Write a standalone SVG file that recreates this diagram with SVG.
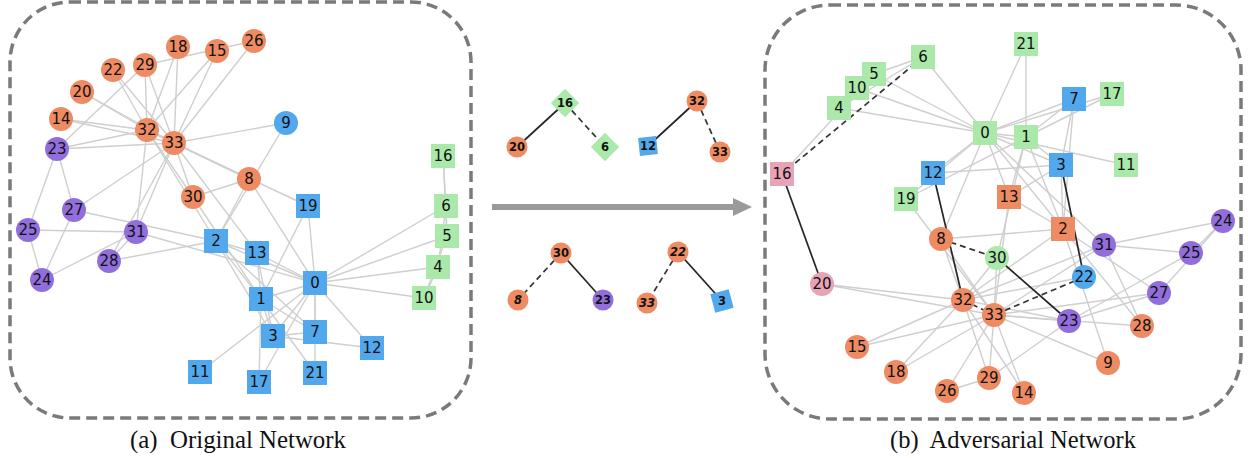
<svg xmlns="http://www.w3.org/2000/svg" width="1248" height="458" viewBox="0 0 1248 458">
<defs>
<style>
.frame{fill:none;stroke:#7a7a7a;stroke-width:3.5;stroke-dasharray:11 6}
.e{stroke:#cfcfcf;stroke-width:1.4;fill:none}
.add{stroke:#262626;stroke-width:1.7}
.rem{stroke:#333333;stroke-width:1.7;stroke-dasharray:6 4}
.o{fill:#EE8B62}
.p{fill:#916EDC}
.b{fill:#52A8EC}
.g{fill:#AAE9AA}
.k{fill:#E9A3B7}
.l{font-family:"DejaVu Sans",sans-serif;font-size:15px;text-anchor:middle;dominant-baseline:central;fill:#111}
.s{font-family:"DejaVu Sans",sans-serif;font-size:11.5px;font-weight:bold;text-anchor:middle;dominant-baseline:central;fill:#111}
.cap{font-family:"Liberation Serif",serif;font-size:25px;fill:#111;text-anchor:middle}
</style>
</defs>
<rect width="1248" height="458" fill="#ffffff"/>
<rect class="frame" x="10" y="2" width="461" height="416" rx="60" ry="60"/>
<rect class="frame" x="765" y="5" width="476" height="414" rx="65" ry="65"/>

<g id="connectors-a">
<line class="e" x1="315" y1="283" x2="261" y2="299"/>
<line class="e" x1="315" y1="283" x2="216" y2="241"/>
<line class="e" x1="315" y1="283" x2="273" y2="336"/>
<line class="e" x1="315" y1="283" x2="438" y2="267"/>
<line class="e" x1="315" y1="283" x2="447" y2="236"/>
<line class="e" x1="315" y1="283" x2="446" y2="206"/>
<line class="e" x1="315" y1="283" x2="315" y2="332"/>
<line class="e" x1="315" y1="283" x2="249" y2="179"/>
<line class="e" x1="315" y1="283" x2="424" y2="298"/>
<line class="e" x1="315" y1="283" x2="200" y2="372"/>
<line class="e" x1="315" y1="283" x2="372" y2="348"/>
<line class="e" x1="315" y1="283" x2="257" y2="253"/>
<line class="e" x1="315" y1="283" x2="259" y2="382"/>
<line class="e" x1="315" y1="283" x2="308" y2="206"/>
<line class="e" x1="315" y1="283" x2="315" y2="373"/>
<line class="e" x1="315" y1="283" x2="136" y2="232"/>
<line class="e" x1="261" y1="299" x2="216" y2="241"/>
<line class="e" x1="261" y1="299" x2="273" y2="336"/>
<line class="e" x1="261" y1="299" x2="315" y2="332"/>
<line class="e" x1="261" y1="299" x2="257" y2="253"/>
<line class="e" x1="261" y1="299" x2="259" y2="382"/>
<line class="e" x1="261" y1="299" x2="308" y2="206"/>
<line class="e" x1="261" y1="299" x2="315" y2="373"/>
<line class="e" x1="261" y1="299" x2="193" y2="197"/>
<line class="e" x1="216" y1="241" x2="273" y2="336"/>
<line class="e" x1="216" y1="241" x2="315" y2="332"/>
<line class="e" x1="216" y1="241" x2="249" y2="179"/>
<line class="e" x1="216" y1="241" x2="286" y2="123"/>
<line class="e" x1="216" y1="241" x2="257" y2="253"/>
<line class="e" x1="216" y1="241" x2="74" y2="210"/>
<line class="e" x1="216" y1="241" x2="109" y2="261"/>
<line class="e" x1="216" y1="241" x2="147" y2="130"/>
<line class="e" x1="273" y1="336" x2="315" y2="332"/>
<line class="e" x1="273" y1="336" x2="372" y2="348"/>
<line class="e" x1="273" y1="336" x2="257" y2="253"/>
<line class="e" x1="438" y1="267" x2="446" y2="206"/>
<line class="e" x1="438" y1="267" x2="424" y2="298"/>
<line class="e" x1="447" y1="236" x2="446" y2="206"/>
<line class="e" x1="447" y1="236" x2="424" y2="298"/>
<line class="e" x1="447" y1="236" x2="443" y2="156"/>
<line class="e" x1="446" y1="206" x2="443" y2="156"/>
<line class="e" x1="249" y1="179" x2="193" y2="197"/>
<line class="e" x1="249" y1="179" x2="147" y2="130"/>
<line class="e" x1="249" y1="179" x2="174" y2="143"/>
<line class="e" x1="286" y1="123" x2="174" y2="143"/>
<line class="e" x1="257" y1="253" x2="174" y2="143"/>
<line class="e" x1="61" y1="119" x2="147" y2="130"/>
<line class="e" x1="61" y1="119" x2="174" y2="143"/>
<line class="e" x1="217" y1="51" x2="147" y2="130"/>
<line class="e" x1="217" y1="51" x2="174" y2="143"/>
<line class="e" x1="178" y1="47" x2="147" y2="130"/>
<line class="e" x1="178" y1="47" x2="174" y2="143"/>
<line class="e" x1="308" y1="206" x2="174" y2="143"/>
<line class="e" x1="82" y1="92" x2="147" y2="130"/>
<line class="e" x1="82" y1="92" x2="174" y2="143"/>
<line class="e" x1="113" y1="70" x2="147" y2="130"/>
<line class="e" x1="113" y1="70" x2="174" y2="143"/>
<line class="e" x1="57" y1="149" x2="28" y2="230"/>
<line class="e" x1="57" y1="149" x2="74" y2="210"/>
<line class="e" x1="57" y1="149" x2="145" y2="65"/>
<line class="e" x1="57" y1="149" x2="147" y2="130"/>
<line class="e" x1="57" y1="149" x2="174" y2="143"/>
<line class="e" x1="42" y1="280" x2="28" y2="230"/>
<line class="e" x1="42" y1="280" x2="74" y2="210"/>
<line class="e" x1="42" y1="280" x2="136" y2="232"/>
<line class="e" x1="28" y1="230" x2="136" y2="232"/>
<line class="e" x1="254" y1="41" x2="145" y2="65"/>
<line class="e" x1="254" y1="41" x2="174" y2="143"/>
<line class="e" x1="74" y1="210" x2="174" y2="143"/>
<line class="e" x1="109" y1="261" x2="136" y2="232"/>
<line class="e" x1="109" y1="261" x2="174" y2="143"/>
<line class="e" x1="145" y1="65" x2="147" y2="130"/>
<line class="e" x1="145" y1="65" x2="174" y2="143"/>
<line class="e" x1="193" y1="197" x2="147" y2="130"/>
<line class="e" x1="193" y1="197" x2="174" y2="143"/>
<line class="e" x1="136" y1="232" x2="147" y2="130"/>
<line class="e" x1="136" y1="232" x2="174" y2="143"/>
<line class="e" x1="147" y1="130" x2="174" y2="143"/>
</g>

<g id="nodes-a">
<g id="a0"><rect class="b" x="303" y="271" width="24" height="24"/><text class="l" x="315" y="283">0</text></g>
<g id="a1"><rect class="b" x="249" y="287" width="24" height="24"/><text class="l" x="261" y="299">1</text></g>
<g id="a2"><rect class="b" x="204" y="229" width="24" height="24"/><text class="l" x="216" y="241">2</text></g>
<g id="a3"><rect class="b" x="261" y="324" width="24" height="24"/><text class="l" x="273" y="336">3</text></g>
<g id="a4"><rect class="g" x="426" y="255" width="24" height="24"/><text class="l" x="438" y="267">4</text></g>
<g id="a5"><rect class="g" x="435" y="224" width="24" height="24"/><text class="l" x="447" y="236">5</text></g>
<g id="a6"><rect class="g" x="434" y="194" width="24" height="24"/><text class="l" x="446" y="206">6</text></g>
<g id="a7"><rect class="b" x="303" y="320" width="24" height="24"/><text class="l" x="315" y="332">7</text></g>
<g id="a8"><circle class="o" cx="249" cy="179" r="12"/><text class="l" x="249" y="179">8</text></g>
<g id="a9"><circle class="b" cx="286" cy="123" r="12"/><text class="l" x="286" y="123">9</text></g>
<g id="a10"><rect class="g" x="412" y="286" width="24" height="24"/><text class="l" x="424" y="298">10</text></g>
<g id="a11"><rect class="b" x="188" y="360" width="24" height="24"/><text class="l" x="200" y="372">11</text></g>
<g id="a12"><rect class="b" x="360" y="336" width="24" height="24"/><text class="l" x="372" y="348">12</text></g>
<g id="a13"><rect class="b" x="245" y="241" width="24" height="24"/><text class="l" x="257" y="253">13</text></g>
<g id="a14"><circle class="o" cx="61" cy="119" r="12"/><text class="l" x="61" y="119">14</text></g>
<g id="a15"><circle class="o" cx="217" cy="51" r="12"/><text class="l" x="217" y="51">15</text></g>
<g id="a16"><rect class="g" x="431" y="144" width="24" height="24"/><text class="l" x="443" y="156">16</text></g>
<g id="a17"><rect class="b" x="247" y="370" width="24" height="24"/><text class="l" x="259" y="382">17</text></g>
<g id="a18"><circle class="o" cx="178" cy="47" r="12"/><text class="l" x="178" y="47">18</text></g>
<g id="a19"><rect class="b" x="296" y="194" width="24" height="24"/><text class="l" x="308" y="206">19</text></g>
<g id="a20"><circle class="o" cx="82" cy="92" r="12"/><text class="l" x="82" y="92">20</text></g>
<g id="a21"><rect class="b" x="303" y="361" width="24" height="24"/><text class="l" x="315" y="373">21</text></g>
<g id="a22"><circle class="o" cx="113" cy="70" r="12"/><text class="l" x="113" y="70">22</text></g>
<g id="a23"><circle class="p" cx="57" cy="149" r="12"/><text class="l" x="57" y="149">23</text></g>
<g id="a24"><circle class="p" cx="42" cy="280" r="12"/><text class="l" x="42" y="280">24</text></g>
<g id="a25"><circle class="p" cx="28" cy="230" r="12"/><text class="l" x="28" y="230">25</text></g>
<g id="a26"><circle class="o" cx="254" cy="41" r="12"/><text class="l" x="254" y="41">26</text></g>
<g id="a27"><circle class="p" cx="74" cy="210" r="12"/><text class="l" x="74" y="210">27</text></g>
<g id="a28"><circle class="p" cx="109" cy="261" r="12"/><text class="l" x="109" y="261">28</text></g>
<g id="a29"><circle class="o" cx="145" cy="65" r="12"/><text class="l" x="145" y="65">29</text></g>
<g id="a30"><circle class="o" cx="193" cy="197" r="12"/><text class="l" x="193" y="197">30</text></g>
<g id="a31"><circle class="p" cx="136" cy="232" r="12"/><text class="l" x="136" y="232">31</text></g>
<g id="a32"><circle class="o" cx="147" cy="130" r="12"/><text class="l" x="147" y="130">32</text></g>
<g id="a33"><circle class="o" cx="174" cy="143" r="12"/><text class="l" x="174" y="143">33</text></g>
</g>

<g id="arrow">
<line x1="492" y1="207" x2="736" y2="207" stroke="#9a9a9a" stroke-width="6"/>
<polygon points="733,198 752,207 733,216" fill="#9a9a9a"/>
</g>

<g id="connectors-mini">
<line class="add" x1="517" y1="147" x2="565" y2="103"/>
<line class="rem" x1="565" y1="103" x2="605" y2="147"/>
<line class="add" x1="697" y1="101" x2="648" y2="146"/>
<line class="rem" x1="697" y1="101" x2="720" y2="152"/>
<line class="rem" x1="561" y1="253" x2="518" y2="300"/>
<line class="add" x1="561" y1="253" x2="603" y2="300"/>
<line class="rem" x1="678" y1="252" x2="647" y2="303"/>
<line class="add" x1="678" y1="252" x2="722" y2="301"/>
</g>
<g id="mini-16"><rect class="g" x="555" y="93" width="20" height="20" transform="rotate(45 565 103)"/><text class="s" x="565" y="103">16</text></g>
<g id="mini-20"><circle class="o" cx="517" cy="147" r="10.5"/><text class="s" x="517" y="147">20</text></g>
<g id="mini-6"><rect class="g" x="595" y="137" width="20" height="20" transform="rotate(45 605 147)"/><text class="s" x="605" y="147">6</text></g>
<g id="mini-32"><circle class="o" cx="697" cy="101" r="10.5"/><text class="s" x="697" y="101">32</text></g>
<g id="mini-12"><rect class="b" x="639" y="137" width="18" height="18" transform="rotate(-6 648 146)"/><text class="s" x="648" y="146">12</text></g>
<g id="mini-33a"><circle class="o" cx="720" cy="152" r="10.5"/><text class="s" x="720" y="152">33</text></g>
<g id="mini-30"><circle class="o" cx="561" cy="253" r="10.5"/><text class="s" x="561" y="253">30</text></g>
<g id="mini-8"><circle class="o" cx="518" cy="300" r="10.5"/><text class="s" x="518" y="300" font-style="italic">8</text></g>
<g id="mini-23"><circle class="p" cx="603" cy="300" r="10.5"/><text class="s" x="603" y="300">23</text></g>
<g id="mini-22"><circle class="o" cx="678" cy="252" r="10.5"/><text class="s" x="678" y="252" font-style="italic">22</text></g>
<g id="mini-33b"><circle class="o" cx="647" cy="303" r="10.5"/><text class="s" x="647" y="303" font-style="italic">33</text></g>
<g id="mini-3"><rect class="b" x="712.5" y="291.5" width="19" height="19" transform="rotate(-15 722 301)"/><text class="s" x="722" y="301">3</text></g>

<g id="connectors-b">
<line class="e" x1="985" y1="133" x2="1026" y2="137"/>
<line class="e" x1="985" y1="133" x2="1063" y2="229"/>
<line class="e" x1="985" y1="133" x2="1061" y2="165"/>
<line class="e" x1="985" y1="133" x2="839" y2="108"/>
<line class="e" x1="985" y1="133" x2="874" y2="74"/>
<line class="e" x1="985" y1="133" x2="923" y2="57"/>
<line class="e" x1="985" y1="133" x2="1074" y2="99"/>
<line class="e" x1="985" y1="133" x2="941" y2="239"/>
<line class="e" x1="985" y1="133" x2="857" y2="88"/>
<line class="e" x1="985" y1="133" x2="1126" y2="165"/>
<line class="e" x1="985" y1="133" x2="933" y2="173"/>
<line class="e" x1="985" y1="133" x2="1009" y2="197"/>
<line class="e" x1="985" y1="133" x2="1112" y2="94"/>
<line class="e" x1="985" y1="133" x2="906" y2="199"/>
<line class="e" x1="985" y1="133" x2="1026" y2="44"/>
<line class="e" x1="985" y1="133" x2="1104" y2="245"/>
<line class="e" x1="1026" y1="137" x2="1063" y2="229"/>
<line class="e" x1="1026" y1="137" x2="1061" y2="165"/>
<line class="e" x1="1026" y1="137" x2="1074" y2="99"/>
<line class="e" x1="1026" y1="137" x2="1009" y2="197"/>
<line class="e" x1="1026" y1="137" x2="1112" y2="94"/>
<line class="e" x1="1026" y1="137" x2="906" y2="199"/>
<line class="e" x1="1026" y1="137" x2="1026" y2="44"/>
<line class="e" x1="1026" y1="137" x2="997" y2="258"/>
<line class="e" x1="1063" y1="229" x2="1061" y2="165"/>
<line class="e" x1="1063" y1="229" x2="1074" y2="99"/>
<line class="e" x1="1063" y1="229" x2="941" y2="239"/>
<line class="e" x1="1063" y1="229" x2="1108" y2="363"/>
<line class="e" x1="1063" y1="229" x2="1009" y2="197"/>
<line class="e" x1="1063" y1="229" x2="1159" y2="293"/>
<line class="e" x1="1063" y1="229" x2="1142" y2="326"/>
<line class="e" x1="1063" y1="229" x2="963" y2="300"/>
<line class="e" x1="1061" y1="165" x2="1074" y2="99"/>
<line class="e" x1="1061" y1="165" x2="933" y2="173"/>
<line class="e" x1="1061" y1="165" x2="1009" y2="197"/>
<line class="e" x1="839" y1="108" x2="923" y2="57"/>
<line class="e" x1="839" y1="108" x2="857" y2="88"/>
<line class="e" x1="874" y1="74" x2="923" y2="57"/>
<line class="e" x1="874" y1="74" x2="857" y2="88"/>
<line class="e" x1="874" y1="74" x2="782" y2="174"/>
<line class="e" x1="941" y1="239" x2="963" y2="300"/>
<line class="e" x1="941" y1="239" x2="994" y2="315"/>
<line class="e" x1="1108" y1="363" x2="994" y2="315"/>
<line class="e" x1="1009" y1="197" x2="994" y2="315"/>
<line class="e" x1="1024" y1="393" x2="963" y2="300"/>
<line class="e" x1="1024" y1="393" x2="994" y2="315"/>
<line class="e" x1="857" y1="347" x2="963" y2="300"/>
<line class="e" x1="857" y1="347" x2="994" y2="315"/>
<line class="e" x1="896" y1="372" x2="963" y2="300"/>
<line class="e" x1="896" y1="372" x2="994" y2="315"/>
<line class="e" x1="906" y1="199" x2="994" y2="315"/>
<line class="e" x1="822" y1="284" x2="963" y2="300"/>
<line class="e" x1="822" y1="284" x2="994" y2="315"/>
<line class="e" x1="1084" y1="277" x2="963" y2="300"/>
<line class="e" x1="1069" y1="321" x2="1191" y2="253"/>
<line class="e" x1="1069" y1="321" x2="1159" y2="293"/>
<line class="e" x1="1069" y1="321" x2="989" y2="378"/>
<line class="e" x1="1069" y1="321" x2="963" y2="300"/>
<line class="e" x1="1069" y1="321" x2="994" y2="315"/>
<line class="e" x1="1223" y1="221" x2="1191" y2="253"/>
<line class="e" x1="1223" y1="221" x2="1159" y2="293"/>
<line class="e" x1="1223" y1="221" x2="1104" y2="245"/>
<line class="e" x1="1191" y1="253" x2="1104" y2="245"/>
<line class="e" x1="947" y1="391" x2="989" y2="378"/>
<line class="e" x1="947" y1="391" x2="994" y2="315"/>
<line class="e" x1="1159" y1="293" x2="994" y2="315"/>
<line class="e" x1="1142" y1="326" x2="1104" y2="245"/>
<line class="e" x1="1142" y1="326" x2="994" y2="315"/>
<line class="e" x1="989" y1="378" x2="963" y2="300"/>
<line class="e" x1="989" y1="378" x2="994" y2="315"/>
<line class="e" x1="997" y1="258" x2="963" y2="300"/>
<line class="e" x1="997" y1="258" x2="994" y2="315"/>
<line class="e" x1="1104" y1="245" x2="963" y2="300"/>
<line class="e" x1="1104" y1="245" x2="994" y2="315"/>
<line class="rem" x1="923" y1="57" x2="782" y2="174"/>
<line class="rem" x1="941" y1="239" x2="997" y2="258"/>
<line class="rem" x1="1084" y1="277" x2="994" y2="315"/>
<line class="rem" x1="963" y1="300" x2="994" y2="315"/>
<line class="add" x1="782" y1="174" x2="822" y2="284"/>
<line class="add" x1="933" y1="173" x2="963" y2="300"/>
<line class="add" x1="997" y1="258" x2="1069" y2="321"/>
<line class="add" x1="1061" y1="165" x2="1084" y2="277"/>
</g>

<g id="nodes-b">
<g id="b0"><rect class="g" x="973" y="121" width="24" height="24"/><text class="l" x="985" y="133">0</text></g>
<g id="b1"><rect class="g" x="1014" y="125" width="24" height="24"/><text class="l" x="1026" y="137">1</text></g>
<g id="b2"><rect class="o" x="1051" y="217" width="24" height="24"/><text class="l" x="1063" y="229">2</text></g>
<g id="b3"><rect class="b" x="1049" y="153" width="24" height="24"/><text class="l" x="1061" y="165">3</text></g>
<g id="b4"><rect class="g" x="827" y="96" width="24" height="24"/><text class="l" x="839" y="108">4</text></g>
<g id="b5"><rect class="g" x="862" y="62" width="24" height="24"/><text class="l" x="874" y="74">5</text></g>
<g id="b6"><rect class="g" x="911" y="45" width="24" height="24"/><text class="l" x="923" y="57">6</text></g>
<g id="b7"><rect class="b" x="1062" y="87" width="24" height="24"/><text class="l" x="1074" y="99">7</text></g>
<g id="b8"><circle class="o" cx="941" cy="239" r="12"/><text class="l" x="941" y="239">8</text></g>
<g id="b9"><circle class="o" cx="1108" cy="363" r="12"/><text class="l" x="1108" y="363">9</text></g>
<g id="b10"><rect class="g" x="845" y="76" width="24" height="24"/><text class="l" x="857" y="88">10</text></g>
<g id="b11"><rect class="g" x="1114" y="153" width="24" height="24"/><text class="l" x="1126" y="165">11</text></g>
<g id="b12"><rect class="b" x="921" y="161" width="24" height="24"/><text class="l" x="933" y="173">12</text></g>
<g id="b13"><rect class="o" x="997" y="185" width="24" height="24"/><text class="l" x="1009" y="197">13</text></g>
<g id="b14"><circle class="o" cx="1024" cy="393" r="12"/><text class="l" x="1024" y="393">14</text></g>
<g id="b15"><circle class="o" cx="857" cy="347" r="12"/><text class="l" x="857" y="347">15</text></g>
<g id="b16"><rect class="k" x="770" y="162" width="24" height="24"/><text class="l" x="782" y="174">16</text></g>
<g id="b17"><rect class="g" x="1100" y="82" width="24" height="24"/><text class="l" x="1112" y="94">17</text></g>
<g id="b18"><circle class="o" cx="896" cy="372" r="12"/><text class="l" x="896" y="372">18</text></g>
<g id="b19"><rect class="g" x="894" y="187" width="24" height="24"/><text class="l" x="906" y="199">19</text></g>
<g id="b20"><circle class="k" cx="822" cy="284" r="12"/><text class="l" x="822" y="284">20</text></g>
<g id="b21"><rect class="g" x="1014" y="32" width="24" height="24"/><text class="l" x="1026" y="44">21</text></g>
<g id="b22"><circle class="b" cx="1084" cy="277" r="12"/><text class="l" x="1084" y="277">22</text></g>
<g id="b23"><circle class="p" cx="1069" cy="321" r="12"/><text class="l" x="1069" y="321">23</text></g>
<g id="b24"><circle class="p" cx="1223" cy="221" r="12"/><text class="l" x="1223" y="221">24</text></g>
<g id="b25"><circle class="p" cx="1191" cy="253" r="12"/><text class="l" x="1191" y="253">25</text></g>
<g id="b26"><circle class="o" cx="947" cy="391" r="12"/><text class="l" x="947" y="391">26</text></g>
<g id="b27"><circle class="p" cx="1159" cy="293" r="12"/><text class="l" x="1159" y="293">27</text></g>
<g id="b28"><circle class="o" cx="1142" cy="326" r="12"/><text class="l" x="1142" y="326">28</text></g>
<g id="b29"><circle class="o" cx="989" cy="378" r="12"/><text class="l" x="989" y="378">29</text></g>
<g id="b30"><circle class="g" cx="997" cy="258" r="12"/><text class="l" x="997" y="258">30</text></g>
<g id="b31"><circle class="p" cx="1104" cy="245" r="12"/><text class="l" x="1104" y="245">31</text></g>
<g id="b32"><circle class="o" cx="963" cy="300" r="12"/><text class="l" x="963" y="300">32</text></g>
<g id="b33"><circle class="o" cx="994" cy="315" r="12"/><text class="l" x="994" y="315">33</text></g>
</g>

<text class="cap" x="238" y="448" textLength="216" lengthAdjust="spacingAndGlyphs">(a)&#160; Original Network</text>
<text class="cap" x="1013" y="448" textLength="246" lengthAdjust="spacingAndGlyphs">(b)&#160; Adversarial Network</text>
</svg>
